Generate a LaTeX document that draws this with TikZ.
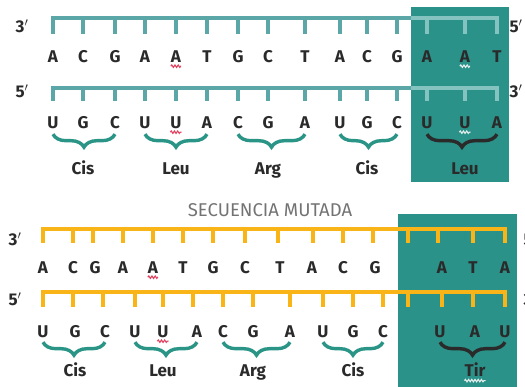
\documentclass[tikz,border=0pt]{standalone}
\usepackage{fontspec}
\setmainfont{Fira Sans}
\usetikzlibrary{positioning}
\usetikzlibrary{decorations.pathreplacing, decorations.pathmorphing}
\definecolor{tealbox}{HTML}{2A9289}
\definecolor{tealline}{HTML}{5BA7A8}
\definecolor{tealpale}{HTML}{84C3BF}
\definecolor{tealbrace}{HTML}{2A9587}
\definecolor{amber}{HTML}{F9B418}
\definecolor{ink}{HTML}{2A2A2A}
\definecolor{wave}{HTML}{E2405F}
\definecolor{pale}{HTML}{E6EFEE}
\tikzset{
	base/.style={font=\bfseries\fontsize{17}{17}\selectfont, text=ink, inner sep=0pt,
		text height=12pt, text depth=0pt},
	strand/.style={draw=#1, line width=3.4pt},
	codon/.style={draw=#1, line width=3.4pt, decorate,
		decoration={brace, mirror, amplitude=13pt}},
	wavy/.style={draw=#1, line width=1.1pt, decorate,
		decoration={snake, amplitude=1.2pt, segment length=3.2pt}},
	title/.style={font=\fontsize{18.5}{18.5}\selectfont, text=black!55, inner sep=0pt}
}
% #1 colour, #2 backbone y, #3 tick end y, #4 first x, #5 last x, #6 tick x list
\newcommand{\ladder}[6]{%
	\foreach \x in {#6}
	\draw[strand=#1] (\x,#2) -- (\x,#3);
	\draw[strand=#1, line cap=rect] (#4,#2) -- (#5,#2);
}
\begin{document}
\begin{tikzpicture}[x=1pt, y=-1pt]
		\useasboundingbox (0,0) rectangle (525,387);
		\clip (0,0) rectangle (525,387);
		\fill[tealbox] (411,7) rectangle (509,182);
		\fill[tealbox] (398,214) rectangle (517,392);
		%original sequence
		\ladder{tealline}{18}{34}{53}{497}{53,83,115,145,176,207,238,268,305,340,367,397,427,465,497}
		\ladder{tealline}{88}{101}{53}{497}{53,83,115,145,176,207,238,268,305,340,367,397,427,465,497}
		\begin{scope}
			\clip (411,7) rectangle (509,182);
			\ladder{tealpale}{18}{34}{53}{497}{53,83,115,145,176,207,238,268,305,340,367,397,427,465,497}
			\ladder{tealpale}{88}{101}{53}{497}{53,83,115,145,176,207,238,268,305,340,367,397,427,465,497}
		\end{scope}
		\foreach \x/\b [count=\i] in {53/A,83/C,115/G,145/A,176/A,207/T,238/G,268/C,305/T,340/A,367/C,397/G,427/A,465/A,497/T}
		\node[base] (dna\i) at (\x,57) {\b};
		\foreach \x/\b [count=\i] in {53/U,83/G,115/C,145/U,176/U,207/A,238/C,268/G,305/A,340/U,367/G,397/C,427/U,465/U,497/A}
		\node[base] (rna\i) at (\x,123) {\b};
		\node[base] (p1) at (22,27) {3$'$};
		\node[base] (p2) at (22,92) {5$'$};
		\node[base] (p3) at (516,27) {5$'$};
		\node[base] (p4) at (516,92) {3$'$};
		\draw[wavy=wave] ([yshift=-3pt]dna5.south west) -- ([yshift=-3pt]dna5.south east);
		\draw[wavy=pale] ([yshift=-3pt]dna14.south west) -- ([yshift=-3pt]dna14.south east);
		\draw[wavy=wave] ([yshift=-3pt]rna5.south west) -- ([yshift=-3pt]rna5.south east);
		\draw[wavy=pale] ([yshift=-3pt]rna14.south west) -- ([yshift=-3pt]rna14.south east);
		\draw[codon=tealbrace] ([yshift=-5pt]rna1.south) -- ([yshift=-5pt]rna3.south);
		\draw[codon=tealbrace] ([yshift=-5pt]rna4.south) -- ([yshift=-5pt]rna6.south);
		\draw[codon=tealbrace] ([yshift=-5pt]rna7.south) -- ([yshift=-5pt]rna9.south);
		\draw[codon=tealbrace] ([yshift=-5pt]rna10.south) -- ([yshift=-5pt]rna12.south);
		\draw[codon=ink] ([yshift=-5pt]rna13.south) -- ([yshift=-5pt]rna15.south);
		\node[base, below=33pt of rna2] (aa1) {Cis};
		\node[base, below=33pt of rna5] (aa2) {Leu};
		\node[base, below=33pt of rna8] (aa3) {Arg};
		\node[base, below=33pt of rna11] (aa4) {Cis};
		\node[base, below=33pt of rna14] (aa5) {Leu};
		%mutated sequence
		\node[title] (tm) at (270,210) {SECUENCIA MUTADA};
		\ladder{amber}{229}{243}{43}{505}{43,73,93,123,153,183,213,245,278,313,343,373,408,438,473,505}
		\ladder{amber}{292}{307}{43}{505}{43,73,103,135,163,193,223,253,290,323,353,383,408,442,473,505}
		\foreach \x/\b [count=\i] in {43/A,73/C,95/G,123/A,153/A,183/T,213/G,245/C,280/T,312/A,343/C,375/G,442/A,473/T,505/A}
		\node[base] (mdna\i) at (\x,268) {\b};
		\foreach \x/\b [count=\i] in {43/U,75/G,105/C,135/U,163/U,197/A,223/C,253/G,290/A,323/U,353/G,383/C,440/U,475/A,505/U}
		\node[base] (mrna\i) at (\x,332) {\b};
		\node[base] (q1) at (15,240) {3$'$};
		\node[base] (q2) at (15,300) {5$'$};
		\node[base] (q3) at (530,240) {5$'$};
		\node[base] (q4) at (530,300) {3$'$};
		\draw[wavy=wave] ([yshift=-3pt]mdna5.south west) -- ([yshift=-3pt]mdna5.south east);
		\draw[wavy=wave] ([yshift=-3pt]mrna5.south west) -- ([yshift=-3pt]mrna5.south east);
		\draw[codon=tealbrace] ([yshift=-4pt]mrna1.south) -- ([yshift=-4pt]mrna3.south);
		\draw[codon=tealbrace] ([yshift=-4pt]mrna4.south) -- ([yshift=-4pt]mrna6.south);
		\draw[codon=tealbrace] ([yshift=-4pt]mrna7.south) -- ([yshift=-4pt]mrna9.south);
		\draw[codon=tealbrace] ([yshift=-4pt]mrna10.south) -- ([yshift=-4pt]mrna12.south);
		\draw[codon=ink] ([yshift=-4pt]mrna13.south) -- ([yshift=-4pt]mrna15.south);
		\node[base, below=26pt of mrna2] (ma1) {Cis};
		\node[base, below=26pt of mrna5] (ma2) {Leu};
		\node[base, below=26pt of mrna8] (ma3) {Arg};
		\node[base, below=26pt of mrna11] (ma4) {Cis};
		\node[base, below=26pt of mrna14] (ma5) {Tir};
		\draw[wavy=pale] ([yshift=-4pt]ma5.south west) -- ([yshift=-4pt]ma5.south east);
		\end{tikzpicture}
\end{document}
